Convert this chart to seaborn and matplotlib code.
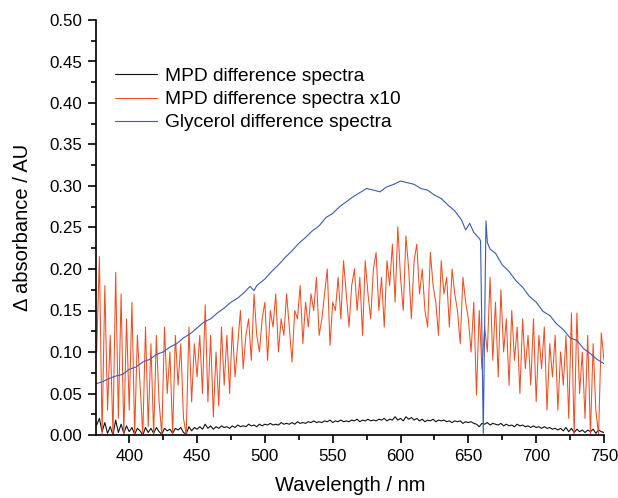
#!/usr/bin/env python3
"""
Difference spectra plot (MPD / glycerol), Origin-style look.
"""
import numpy as np
import pandas as pd
import matplotlib
matplotlib.use("Agg")
import matplotlib.pyplot as plt
from matplotlib.ticker import MultipleLocator, FormatStrFormatter
import seaborn as sns

# --- data ----------------------------------------------------------------
# MPD spectra are sampled every 2 nm from 376 to 750 nm
mpd_wavelength = np.arange(376, 751, 2)

mpd_diff = [
    0.012, 0.020, 0.004, 0.015, 0.002, 0.010, 0.000, 0.018, 0.003, 0.013,
    0.002, 0.011, 0.004, 0.009, 0.001, 0.008, 0.005, 0.000, 0.009, 0.003,
    0.008, 0.002, 0.009, 0.004, 0.001, 0.008, 0.005, 0.007, 0.002, 0.008,
    0.006, 0.009, 0.003, 0.001, 0.010, 0.005, 0.009, 0.007, 0.010, 0.007,
    0.013, 0.008, 0.011, 0.007, 0.010, 0.008, 0.011, 0.009, 0.010, 0.008,
    0.011, 0.009, 0.012, 0.010, 0.011, 0.010, 0.013, 0.011, 0.012, 0.010,
    0.013, 0.011, 0.013, 0.012, 0.014, 0.012, 0.013, 0.012, 0.015, 0.013,
    0.014, 0.013, 0.015, 0.013, 0.016, 0.014, 0.015, 0.014, 0.016, 0.015,
    0.017, 0.015, 0.016, 0.015, 0.017, 0.016, 0.018, 0.015, 0.017, 0.016,
    0.018, 0.016, 0.017, 0.016, 0.018, 0.017, 0.019, 0.016, 0.018, 0.017,
    0.019, 0.017, 0.018, 0.017, 0.019, 0.018, 0.020, 0.017, 0.019, 0.018,
    0.022, 0.018, 0.020, 0.017, 0.022, 0.019, 0.021, 0.018, 0.020, 0.017,
    0.019, 0.016, 0.018, 0.017, 0.019, 0.016, 0.018, 0.017, 0.018, 0.016,
    0.017, 0.015, 0.017, 0.016, 0.017, 0.014, 0.016, 0.015, 0.016, 0.014,
    0.013, 0.010, 0.014, 0.013, 0.015, 0.012, 0.014, 0.013, 0.012, 0.014,
    0.011, 0.013, 0.011, 0.012, 0.010, 0.013, 0.011, 0.012, 0.010, 0.011,
    0.009, 0.011, 0.009, 0.010, 0.008, 0.010, 0.008, 0.009, 0.007, 0.008,
    0.006, 0.008, 0.005, 0.009, 0.004, 0.008, 0.003, 0.007, 0.004, 0.006,
    0.003, 0.006, 0.004, 0.007, 0.002, 0.006, 0.004, 0.003,
]

mpd_diff_x10 = [
    0.100, 0.215, 0.000, 0.180, 0.030, 0.120, 0.000, 0.196, 0.020, 0.170,
    0.000, 0.140, 0.030, 0.160, 0.000, 0.120, 0.060, 0.000, 0.130, 0.010,
    0.110, 0.000, 0.120, 0.040, 0.000, 0.130, 0.050, 0.100, 0.000, 0.120,
    0.060, 0.110, 0.020, 0.000, 0.130, 0.040, 0.110, 0.070, 0.120, 0.050,
    0.157, 0.040, 0.120, 0.022, 0.100, 0.035, 0.130, 0.060, 0.120, 0.050,
    0.130, 0.070, 0.110, 0.150, 0.080, 0.120, 0.140, 0.090, 0.170, 0.120,
    0.100, 0.140, 0.160, 0.090, 0.150, 0.130, 0.170, 0.100, 0.140, 0.120,
    0.170, 0.130, 0.088, 0.150, 0.140, 0.180, 0.110, 0.160, 0.130, 0.170,
    0.150, 0.190, 0.120, 0.140, 0.170, 0.200, 0.108, 0.160, 0.150, 0.190,
    0.140, 0.210, 0.170, 0.130, 0.180, 0.200, 0.150, 0.190, 0.120, 0.210,
    0.170, 0.140, 0.200, 0.220, 0.150, 0.190, 0.130, 0.210, 0.180, 0.230,
    0.160, 0.251, 0.190, 0.150, 0.240, 0.200, 0.140, 0.210, 0.230, 0.170,
    0.200, 0.150, 0.130, 0.220, 0.180, 0.160, 0.120, 0.210, 0.170, 0.190,
    0.130, 0.200, 0.170, 0.150, 0.110, 0.190, 0.160, 0.140, 0.100, 0.160,
    0.048, 0.150, 0.080, 0.130, 0.100, 0.190, 0.090, 0.160, 0.070, 0.175,
    0.100, 0.140, 0.060, 0.150, 0.090, 0.130, 0.050, 0.140, 0.080, 0.120,
    0.060, 0.140, 0.040, 0.120, 0.080, 0.130, 0.030, 0.110, 0.070, 0.120,
    0.030, 0.100, 0.060, 0.120, 0.020, 0.147, 0.000, 0.147, 0.050, 0.100,
    0.020, 0.120, 0.000, 0.110, 0.030, 0.000, 0.123, 0.090,
]

# glycerol spectrum is smooth, so fewer points, denser around the 661 nm glitch
glycerol_wavelength = [
    376, 380, 385, 390, 395, 400, 405, 410, 415, 420,
    425, 430, 435, 440, 445, 450, 455, 460, 465, 470,
    475, 480, 485, 489, 492, 494, 500, 505, 510, 515,
    520, 525, 530, 535, 540, 545, 550, 555, 560, 565,
    570, 575, 580, 585, 588, 590, 595, 600, 605, 610,
    615, 620, 625, 630, 635, 640, 645, 648, 651, 654,
    658, 659, 660, 661, 662, 663, 664, 666, 670, 675,
    680, 685, 690, 695, 700, 705, 710, 715, 720, 725,
    730, 735, 740, 745, 750,
]
glycerol_diff = [
    0.062, 0.064, 0.068, 0.071, 0.073, 0.079, 0.082, 0.088, 0.091, 0.097,
    0.100, 0.106, 0.110, 0.117, 0.122, 0.129, 0.136, 0.140, 0.147, 0.153,
    0.160, 0.165, 0.172, 0.179, 0.174, 0.180, 0.188, 0.197, 0.205, 0.214,
    0.222, 0.231, 0.238, 0.246, 0.252, 0.262, 0.267, 0.275, 0.281, 0.287,
    0.292, 0.297, 0.295, 0.293, 0.297, 0.299, 0.302, 0.306, 0.304, 0.302,
    0.297, 0.295, 0.289, 0.285, 0.277, 0.270, 0.259, 0.247, 0.255, 0.244,
    0.237, 0.234, 0.120, 0.002, 0.130, 0.258, 0.232, 0.224, 0.219, 0.205,
    0.197, 0.186, 0.178, 0.167, 0.160, 0.149, 0.144, 0.134, 0.127, 0.117,
    0.114, 0.104, 0.098, 0.091, 0.086,
]

labels = ["MPD difference spectra", "MPD difference spectra x10",
          "Glycerol difference spectra"]
colors = ["#111111", "#ef4f22", "#3c5cb3"]

# --- styling ----------------------------------------------------------------
sns.set_style("ticks")
plt.rcParams['font.family'] = ['Liberation Sans', 'DejaVu Sans']
plt.rcParams['axes.linewidth'] = 1.2
plt.rcParams['text.color'] = 'black'
plt.rcParams['axes.labelcolor'] = 'black'
plt.rcParams['xtick.color'] = 'black'
plt.rcParams['ytick.color'] = 'black'
plt.rcParams['axes.edgecolor'] = 'black'

fig = plt.figure(figsize=(6.18, 4.98), dpi=100)
ax = fig.add_axes([96 / 618, 63 / 498, 508 / 618, 415 / 498])

mpd_df = pd.DataFrame({"wavelength": mpd_wavelength,
                       "mpd": mpd_diff, "mpd_x10": mpd_diff_x10})
gly_df = pd.DataFrame({"wavelength": glycerol_wavelength,
                       "glycerol": glycerol_diff})

sns.lineplot(data=mpd_df, x="wavelength", y="mpd", ax=ax,
             color=colors[0], lw=0.8, label=labels[0])
sns.lineplot(data=mpd_df, x="wavelength", y="mpd_x10", ax=ax,
             color=colors[1], lw=0.75, label=labels[1])
sns.lineplot(data=gly_df, x="wavelength", y="glycerol", ax=ax,
             color=colors[2], lw=0.8, label=labels[2])

ax.set_xlim(375.5, 750)
ax.set_ylim(0, 0.5)
ax.xaxis.set_major_locator(MultipleLocator(50))
ax.xaxis.set_minor_locator(MultipleLocator(25))
ax.yaxis.set_major_locator(MultipleLocator(0.05))
ax.yaxis.set_minor_locator(MultipleLocator(0.025))
ax.yaxis.set_major_formatter(FormatStrFormatter('%.2f'))
ax.tick_params(which='major', direction='out', length=6, width=1.2,
               labelsize=12.2, pad=4, colors='black')
ax.tick_params(which='minor', direction='out', length=3.5, width=1.2,
               colors='black')

ax.set_xlabel("Wavelength / nm", fontsize=14.5, labelpad=9)
ax.set_ylabel("\u0394 absorbance / AU", fontsize=14.5, labelpad=12)

sns.despine(ax=ax)

leg = ax.legend(loc='upper left', bbox_to_anchor=(0.037, 0.885),
                frameon=False, fontsize=13.8, handlelength=2.2,
                handletextpad=0.4, labelspacing=0.3, borderpad=0,
                borderaxespad=0)
for txt in leg.get_texts():
    txt.set_color('black')

fig.savefig("out.png", dpi=100, facecolor='white')
